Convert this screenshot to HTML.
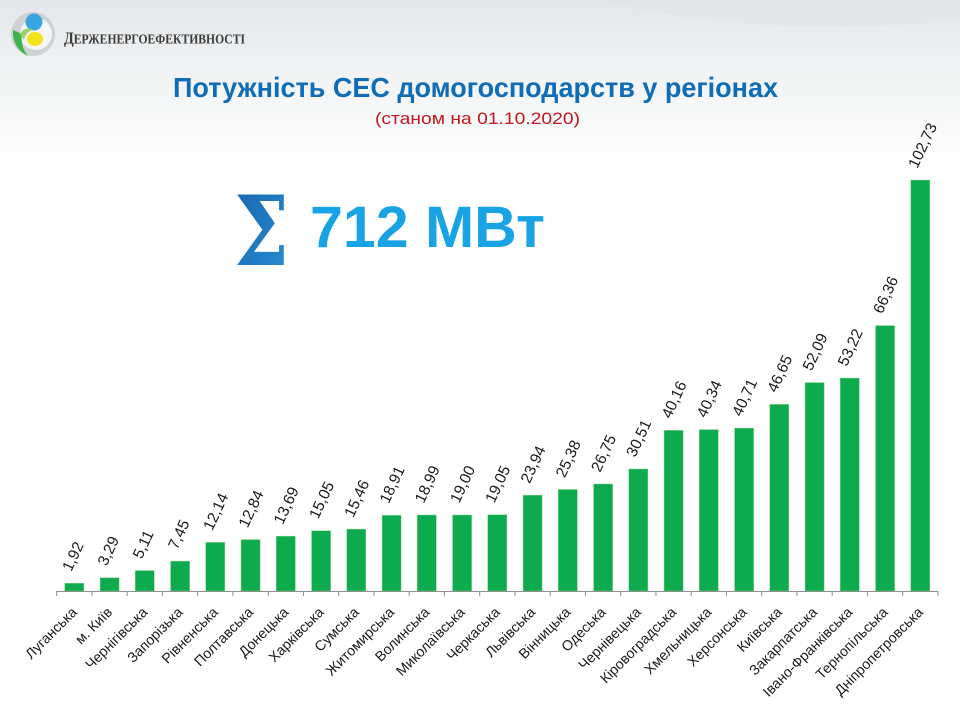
<!DOCTYPE html>
<html><head><meta charset="utf-8"><style>
html,body{margin:0;padding:0;background:#fff;}
svg{display:block;}
</style></head><body>
<svg width="960" height="720" viewBox="0 0 960 720" xmlns="http://www.w3.org/2000/svg">
<defs>
<linearGradient id="bg" x1="0" y1="0" x2="0" y2="1">
<stop offset="0" stop-color="#e4e7ea"/>
<stop offset="0.45" stop-color="#f1f3f4"/>
<stop offset="1" stop-color="#ffffff"/>
</linearGradient>
<linearGradient id="sg" x1="0" y1="0" x2="1" y2="1">
<stop offset="0" stop-color="#1565ad"/>
<stop offset="1" stop-color="#2a8fd4"/>
</linearGradient>
</defs>
<rect x="0" y="0" width="960" height="720" fill="#fff"/>
<rect x="0" y="0" width="960" height="170" fill="url(#bg)"/>
<path d="M600 0 Q760 40 960 20 L960 0 Z" fill="#e0e4e8" opacity="0.6"/>

<!-- logo -->
<circle cx="33" cy="34" r="22" fill="#cfd2d5"/>
<circle cx="36" cy="34" r="16" fill="#f4f5f6"/>
<path d="M13 30 Q12 48 28 56 Q20 46 22 34 Z" fill="#3db54a"/>
<circle cx="34" cy="22" r="8.5" fill="#3aa6df"/>
<ellipse cx="35" cy="39" rx="8" ry="7" fill="#f2e21c"/>
<path d="M20 34 Q24 26 34 30 Q26 31 24 40 Z" fill="#9fcf6e"/>
<text x="64" y="43.5" font-family="Liberation Serif, serif" font-weight="bold" fill="#3a3a3a" font-size="14" textLength="181" lengthAdjust="spacingAndGlyphs"><tspan font-size="17">Д</tspan>ЕРЖЕНЕРГОЕФЕКТИВНОСТІ</text>

<!-- title -->
<text x="475.5" y="97" text-anchor="middle" font-family="Liberation Sans, sans-serif" font-weight="bold" font-size="28" fill="#0e6db6" textLength="605" lengthAdjust="spacingAndGlyphs">Потужність СЕС домогосподарств у регіонах</text>
<text x="477.5" y="124" text-anchor="middle" font-family="Liberation Sans, sans-serif" font-size="17" fill="#c4161c" textLength="205" lengthAdjust="spacingAndGlyphs">(станом на 01.10.2020)</text>

<!-- sigma + total -->
<text x="234" y="265" font-family="DejaVu Serif, serif" font-weight="bold" font-size="96" fill="url(#sg)" textLength="55" lengthAdjust="spacingAndGlyphs">Σ</text>
<text x="310" y="247" font-family="Liberation Sans, sans-serif" font-weight="bold" font-size="58" fill="#18a3e4" textLength="235" lengthAdjust="spacingAndGlyphs">712 МВт</text>

<!-- bars -->
<g fill="#0dab4e" stroke="#7ccf7a" stroke-width="0.5">
<rect x="64.8" y="583.3" width="19" height="7.7"/>
<rect x="100.1" y="577.8" width="19" height="13.2"/>
<rect x="135.3" y="570.6" width="19" height="20.4"/>
<rect x="170.6" y="561.2" width="19" height="29.8"/>
<rect x="205.8" y="542.4" width="19" height="48.6"/>
<rect x="241.1" y="539.6" width="19" height="51.4"/>
<rect x="276.3" y="536.2" width="19" height="54.8"/>
<rect x="311.6" y="530.8" width="19" height="60.2"/>
<rect x="346.8" y="529.2" width="19" height="61.8"/>
<rect x="382.1" y="515.4" width="19" height="75.6"/>
<rect x="417.3" y="515.0" width="19" height="76.0"/>
<rect x="452.6" y="515.0" width="19" height="76.0"/>
<rect x="487.8" y="514.8" width="19" height="76.2"/>
<rect x="523.1" y="495.2" width="19" height="95.8"/>
<rect x="558.3" y="489.5" width="19" height="101.5"/>
<rect x="593.6" y="484.0" width="19" height="107.0"/>
<rect x="628.8" y="469.0" width="19" height="122.0"/>
<rect x="664.1" y="430.4" width="19" height="160.6"/>
<rect x="699.3" y="429.6" width="19" height="161.4"/>
<rect x="734.6" y="428.2" width="19" height="162.8"/>
<rect x="769.8" y="404.4" width="19" height="186.6"/>
<rect x="805.1" y="382.6" width="19" height="208.4"/>
<rect x="840.3" y="378.1" width="19" height="212.9"/>
<rect x="875.6" y="325.6" width="19" height="265.4"/>
<rect x="910.8" y="180.1" width="19" height="410.9"/>
</g>

<!-- axis -->
<line x1="56.7" y1="591.5" x2="938" y2="591.5" stroke="#8e8e8e" stroke-width="1"/>
<path stroke="#8e8e8e" stroke-width="1" fill="none" d="M56.7 591V596M91.95 591V596M127.2 591V596M162.45 591V596M197.7 591V596M232.95 591V596M268.2 591V596M303.45 591V596M338.7 591V596M373.95 591V596M409.2 591V596M444.45 591V596M479.7 591V596M514.95 591V596M550.2 591V596M585.45 591V596M620.7 591V596M655.95 591V596M691.2 591V596M726.45 591V596M761.7 591V596M796.95 591V596M832.2 591V596M867.45 591V596M902.7 591V596M937.95 591V596"/>

<!-- value labels -->
<g font-family="Liberation Sans, sans-serif" font-size="15.5" fill="#1a1a1a">
<text transform="translate(71.3,572.3) rotate(-65)">1,92</text>
<text transform="translate(106.6,566.8) rotate(-65)">3,29</text>
<text transform="translate(141.8,559.6) rotate(-65)">5,11</text>
<text transform="translate(177.1,550.2) rotate(-65)">7,45</text>
<text transform="translate(212.3,531.4) rotate(-65)">12,14</text>
<text transform="translate(247.6,528.6) rotate(-65)">12,84</text>
<text transform="translate(282.8,525.2) rotate(-65)">13,69</text>
<text transform="translate(318.1,519.8) rotate(-65)">15,05</text>
<text transform="translate(353.3,518.2) rotate(-65)">15,46</text>
<text transform="translate(388.6,504.4) rotate(-65)">18,91</text>
<text transform="translate(423.8,504.0) rotate(-65)">18,99</text>
<text transform="translate(459.1,504.0) rotate(-65)">19,00</text>
<text transform="translate(494.3,503.8) rotate(-65)">19,05</text>
<text transform="translate(529.6,484.2) rotate(-65)">23,94</text>
<text transform="translate(564.8,478.5) rotate(-65)">25,38</text>
<text transform="translate(600.1,473.0) rotate(-65)">26,75</text>
<text transform="translate(635.3,458.0) rotate(-65)">30,51</text>
<text transform="translate(670.6,419.4) rotate(-65)">40,16</text>
<text transform="translate(705.8,418.6) rotate(-65)">40,34</text>
<text transform="translate(741.1,417.2) rotate(-65)">40,71</text>
<text transform="translate(776.3,393.4) rotate(-65)">46,65</text>
<text transform="translate(811.6,371.6) rotate(-65)">52,09</text>
<text transform="translate(846.8,367.1) rotate(-65)">53,22</text>
<text transform="translate(882.1,314.6) rotate(-65)">66,36</text>
<text transform="translate(917.3,169.1) rotate(-65)">102,73</text>
</g>

<!-- category labels -->
<g font-family="Liberation Sans, sans-serif" font-size="14.2" fill="#1a1a1a" text-anchor="end">
<text transform="translate(77.8,613) rotate(-45)">Луганська</text>
<text transform="translate(113.1,613) rotate(-45)">м. Київ</text>
<text transform="translate(148.3,613) rotate(-45)">Чернігівська</text>
<text transform="translate(183.6,613) rotate(-45)">Запорізька</text>
<text transform="translate(218.8,613) rotate(-45)">Рівненська</text>
<text transform="translate(254.1,613) rotate(-45)">Полтавська</text>
<text transform="translate(289.3,613) rotate(-45)">Донецька</text>
<text transform="translate(324.6,613) rotate(-45)">Харківська</text>
<text transform="translate(359.8,613) rotate(-45)">Сумська</text>
<text transform="translate(395.1,613) rotate(-45)">Житомирська</text>
<text transform="translate(430.3,613) rotate(-45)">Волинська</text>
<text transform="translate(465.6,613) rotate(-45)">Миколаївська</text>
<text transform="translate(500.8,613) rotate(-45)">Черкаська</text>
<text transform="translate(536.1,613) rotate(-45)">Львівська</text>
<text transform="translate(571.3,613) rotate(-45)">Вінницька</text>
<text transform="translate(606.6,613) rotate(-45)">Одеська</text>
<text transform="translate(641.8,613) rotate(-45)">Чернівецька</text>
<text transform="translate(677.1,613) rotate(-45)">Кіровоградська</text>
<text transform="translate(712.3,613) rotate(-45)">Хмельницька</text>
<text transform="translate(747.6,613) rotate(-45)">Херсонська</text>
<text transform="translate(782.8,613) rotate(-45)">Київська</text>
<text transform="translate(818.1,613) rotate(-45)">Закарпатська</text>
<text transform="translate(853.3,613) rotate(-45)">Івано-Франківська</text>
<text transform="translate(888.6,613) rotate(-45)">Тернопільська</text>
<text transform="translate(923.8,613) rotate(-45)">Дніпропетровська</text>
</g>
</svg>
</body></html>
